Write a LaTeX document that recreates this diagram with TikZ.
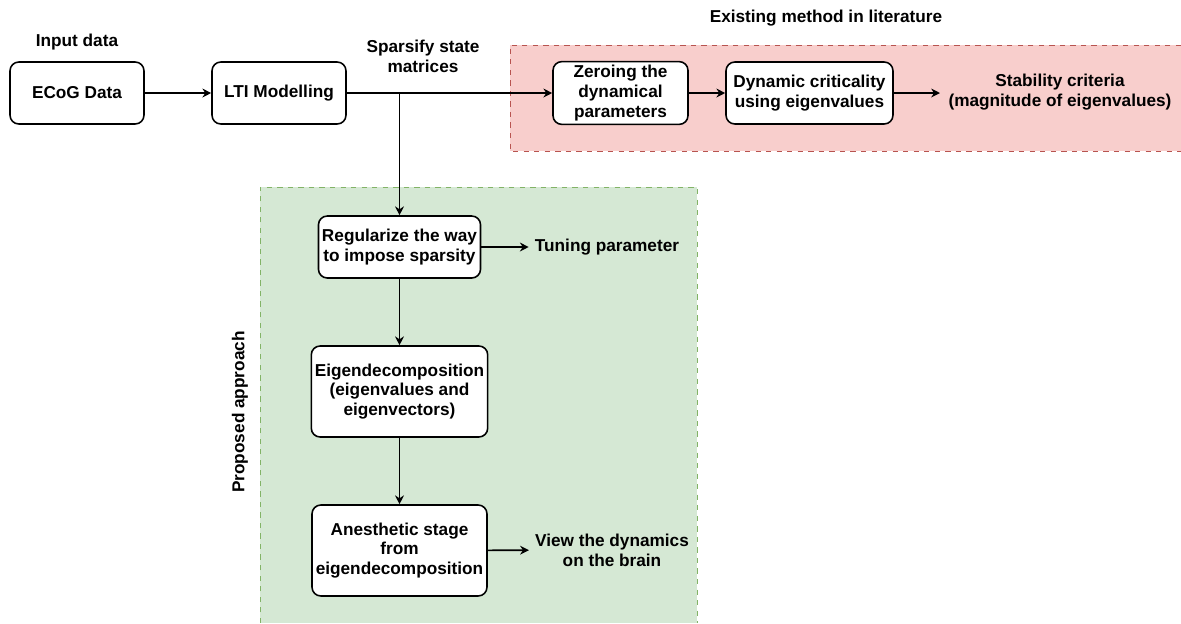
\documentclass[tikz,border=0pt]{standalone}
\usepackage{fontspec}
\setmainfont{Liberation Sans}
\usetikzlibrary{arrows.meta}
\definecolor{exfill}{HTML}{F8CECC}
\definecolor{exline}{HTML}{B85450}
\definecolor{prfill}{HTML}{D5E8D4}
\definecolor{prline}{HTML}{82B366}
\tikzset{
  blk/.style={draw, line width=0.9pt, rounded corners=5pt, fill=white, align=center,
    minimum height=1.24cm, inner sep=2pt},
  lbl/.style={align=center},
  flow/.style={line width=0.9pt, -{Stealth[length=5pt,width=5pt]}}
}
\begin{document}
\begin{tikzpicture}[x=0.02cm, y=-0.02cm, font=\fontsize{9.8}{11.3}\selectfont\bfseries]
  \useasboundingbox (0,0) rectangle (1181,623);
  % regions
  \fill[exfill] (510,45) rectangle (1181,151);
  \draw[exline, dashed, line width=0.5pt] (1181,45) -- (510,45) -- (510,151) -- (1181,151);
  \fill[prfill] (260,187) rectangle (697,623);
  \draw[prline, dashed, line width=0.5pt] (260,623) -- (260,187) -- (697,187) -- (697,623);
  % labels
  \node[lbl] (inlbl) at (77,42) {Input data};
  \node[lbl] (splbl) at (423,56) {Sparsify state\\matrices};
  \node[lbl] (exlbl) at (826,18) {Existing method in literature};
  \node[lbl, rotate=90] (prlbl) at (240,412) {Proposed approach};
  % top row
  \node[blk, minimum width=2.68cm] (ecog) at (77,93) {ECoG Data};
  \node[blk, minimum width=2.68cm] (lti) at (279,93) {LTI Modelling};
  \node[blk, minimum width=2.7cm] (zero) at (620.5,93) {Zeroing the\\dynamical\\parameters};
  \node[blk, minimum width=3.34cm] (crit) at (809.5,93) {Dynamic criticality\\using eigenvalues};
  \node[lbl] (stab) at (1060,92) {Stability criteria\\(magnitude of eigenvalues)};
  % proposed column
  \node[blk, minimum width=3.18cm] (reg) at (399.5,247) {Regularize the way\\to impose sparsity};
  \node[lbl] (tune) at (607,247) {Tuning parameter};
  \node[blk, minimum width=3.5cm, minimum height=1.82cm] (eig) at (399.5,391.5) {Eigendecomposition\\(eigenvalues and\\eigenvectors)};
  \node[blk, minimum width=3.5cm, minimum height=1.82cm] (anes) at (399.5,550.5) {Anesthetic stage\\from\\eigendecomposition};
  \node[lbl] (view) at (612,550) {View the dynamics\\on the brain};
  \coordinate (split) at (reg.north |- lti.east);
  % connectors
  \draw[flow] (ecog) -- (lti);
  \draw[flow] (lti) -- (zero);
  \draw[flow] (zero) -- (crit);
  \draw[flow] (crit.east) -- (940,93);
  \draw[flow] (split) -- (reg);
  \draw[flow] (reg) -- (tune);
  \draw[flow] (reg) -- (eig);
  \draw[flow] (eig) -- (anes);
  \draw[flow] (anes) -- (view);
\end{tikzpicture}
\end{document}
